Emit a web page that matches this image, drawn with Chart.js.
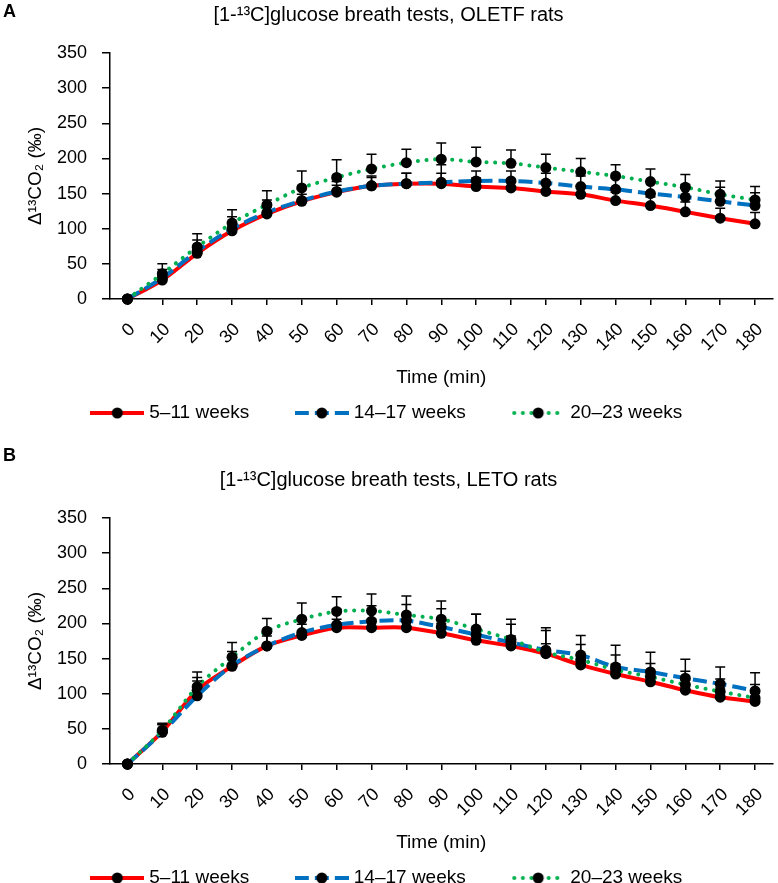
<!DOCTYPE html>
<html>
<head>
<meta charset="utf-8">
<script src="https://cdn.jsdelivr.net/npm/chart.js@4.4.1/dist/chart.umd.min.js"></script>
<style>
  html, body { margin: 0; padding: 0; background: #fff; overflow: hidden; }
  .panel { position: absolute; left: 0; }
  .tag { position: absolute; left: 3px; font: bold 18px "Liberation Sans", Arial, sans-serif; color: #000; }
</style>
</head>
<body>
<canvas id="chartA" class="panel" style="top:0" width="778" height="463"></canvas>
<canvas id="chartB" class="panel" style="top:465px" width="778" height="463"></canvas>
<div class="tag" style="top:1px">A</div>
<div class="tag" style="top:445px">B</div>
<script>
const times = [0, 10, 20, 30, 40, 50, 60, 70, 80, 90, 100, 110, 120, 130, 140, 150, 160, 170, 180];
const yTickValues = [0, 50, 100, 150, 200, 250, 300, 350];
const seriesLabels = ['5–11 weeks', '14–17 weeks', '20–23 weeks'];
const panelTitles = ['[1-¹³C]glucose breath tests, OLETF rats', '[1-¹³C]glucose breath tests, LETO rats'];

// panel A, OLETF rats (mean, upper error)
const oletf5to11 = [0, 27, 65, 97, 121, 139, 152, 161, 164, 164, 160, 158, 153, 149, 140, 133, 124, 115, 107];
const oletf5to11Err = [0, 8, 8, 9, 10, 10, 10, 12, 15, 15, 12, 12, 12, 12, 12, 12, 14, 14, 16];
const oletf14to17 = [0, 30, 68, 100, 123, 140, 153, 161, 164, 166, 168, 168, 165, 160, 156, 150, 145, 139, 133];
const oletf14to17Err = [0, 12, 16, 17, 18, 16, 14, 14, 15, 25, 14, 14, 14, 15, 16, 17, 18, 20, 18];
const oletf20to23 = [0, 36, 74, 108, 134, 158, 173, 185, 194, 199, 195, 193, 187, 181, 175, 167, 159, 149, 141];
const oletf20to23Err = [0, 14, 19, 19, 20, 24, 25, 21, 19, 23, 21, 19, 19, 19, 16, 18, 18, 19, 19];

// panel B, LETO rats
const leto5to11 = [0, 46, 105, 139, 168, 183, 194, 194, 194, 186, 176, 168, 157, 141, 128, 117, 105, 95, 89];
const leto5to11Err = [0, 10, 18, 14, 14, 16, 12, 12, 12, 14, 14, 14, 14, 14, 14, 14, 14, 13, 12];
const leto14to17 = [0, 45, 97, 140, 168, 187, 198, 203, 204, 195, 184, 173, 162, 155, 138, 131, 122, 114, 104];
const leto14to17Err = [0, 12, 21, 20, 18, 20, 22, 22, 23, 26, 29, 33, 32, 28, 31, 28, 27, 24, 26];
const leto20to23 = [0, 48, 110, 152, 189, 206, 217, 218, 212, 206, 192, 177, 159, 148, 134, 124, 113, 103, 94];
const leto20to23Err = [0, 10, 21, 21, 18, 23, 21, 24, 27, 26, 21, 22, 31, 22, 21, 19, 19, 18, 19];

const lineStyles = [
  { color: '#ff0000', dash: [], cap: 'butt' },
  { color: '#0070c0', dash: [14, 6], cap: 'butt' },
  { color: '#00b050', dash: [0.1, 8.5], cap: 'round' }
];

Chart.defaults.font.family = '"Liberation Sans", Arial, sans-serif';
Chart.defaults.color = '#000';

// little line+marker picture for the legend
function legendSample(st) {
  const c = document.createElement('canvas');
  c.width = 54; c.height = 14;
  const g = c.getContext('2d');
  g.strokeStyle = st.color; g.lineWidth = 4; g.lineCap = st.cap;
  g.setLineDash(st.dash);
  g.beginPath(); g.moveTo(st.cap === 'round' ? 3 : 0, 7); g.lineTo(54, 7); g.stroke();
  g.fillStyle = '#000';
  g.beginPath(); g.arc(27, 7, 5.5, 0, Math.PI * 2); g.fill();
  return c;
}

// upper error bars with caps
const errorBars = {
  id: 'errorBars',
  afterDatasetsDraw(chart) {
    const { ctx, scales: { y } } = chart;
    ctx.save();
    ctx.strokeStyle = '#000';
    ctx.lineWidth = 1.5;
    chart.data.datasets.forEach((ds, i) => {
      chart.getDatasetMeta(i).data.forEach((pt, j) => {
        const e = ds.errors[j];
        if (!e) return;
        const top = y.getPixelForValue(ds.data[j] + e);
        ctx.beginPath();
        ctx.moveTo(pt.x, pt.y); ctx.lineTo(pt.x, top);
        ctx.moveTo(pt.x - 5, top); ctx.lineTo(pt.x + 5, top);
        ctx.stroke();
      });
    });
    ctx.restore();
  }
};

function makeChart(id, title, series) {
  new Chart(document.getElementById(id), {
    type: 'line',
    data: {
      labels: times,
      datasets: series.map((s, i) => ({
        label: seriesLabels[i],
        data: s[0],
        errors: s[1],
        borderColor: lineStyles[i].color,
        borderWidth: 4,
        borderDash: lineStyles[i].dash,
        borderCapStyle: lineStyles[i].cap,
        tension: 0.3,
        pointRadius: 5.5,
        pointBorderWidth: 0,
        pointBackgroundColor: '#000',
        clip: false,
        order: 3 - i,
        sample: legendSample(lineStyles[i])
      }))
    },
    options: {
      responsive: false,
      animation: false,
      layout: { padding: { top: 0, left: 0, right: 1, bottom: 30.5 } },
      plugins: {
        title: {
          display: true, text: title, color: '#000',
          font: { size: 20, weight: 'normal' },
          padding: { top: 3, bottom: 26 }
        },
        legend: {
          position: 'bottom',
          labels: {
            usePointStyle: true,
            pointStyleWidth: 45,
            padding: 50,
            font: { size: 19 },
            generateLabels: chart => chart.data.datasets.map((ds, i) => ({
              text: ds.label, pointStyle: ds.sample, datasetIndex: i,
              fontColor: '#000', fillStyle: ds.borderColor, strokeStyle: ds.borderColor,
              lineWidth: 0, hidden: false
            }))
          }
        },
        tooltip: { enabled: false }
      },
      scales: {
        x: {
          type: 'category',
          offset: true,
          border: { color: '#000', width: 1.5 },
          grid: { drawOnChartArea: false, offset: false, color: '#000', lineWidth: 1.5, tickLength: 6 },
          ticks: { autoSkip: false, minRotation: 45, maxRotation: 45, padding: 14, labelOffset: 5, font: { size: 18 } },
          title: { display: true, text: 'Time (min)', font: { size: 19 }, padding: { top: 0, bottom: -36 } },
          afterFit: s => { s.height = 54.5; s.paddingLeft = 0; s.paddingRight = 0; }
        },
        y: {
          min: yTickValues[0],
          max: yTickValues[yTickValues.length - 1],
          afterBuildTicks: s => { s.ticks = yTickValues.map(v => ({ value: v })); },
          border: { color: '#000', width: 1.5 },
          grid: { drawOnChartArea: false, color: '#000', lineWidth: 1.5, tickLength: 8 },
          ticks: { padding: 15, font: { size: 18 } },
          title: { display: true, text: 'Δ¹³CO₂ (‰)', font: { size: 19 }, padding: { top: 24, bottom: 0 } },
          afterFit: s => { s.width = 110; }
        }
      }
    },
    plugins: [errorBars]
  });
}

makeChart('chartA', panelTitles[0], [
  [oletf5to11, oletf5to11Err], [oletf14to17, oletf14to17Err], [oletf20to23, oletf20to23Err]
]);
makeChart('chartB', panelTitles[1], [
  [leto5to11, leto5to11Err], [leto14to17, leto14to17Err], [leto20to23, leto20to23Err]
]);
</script>
</body>
</html>
